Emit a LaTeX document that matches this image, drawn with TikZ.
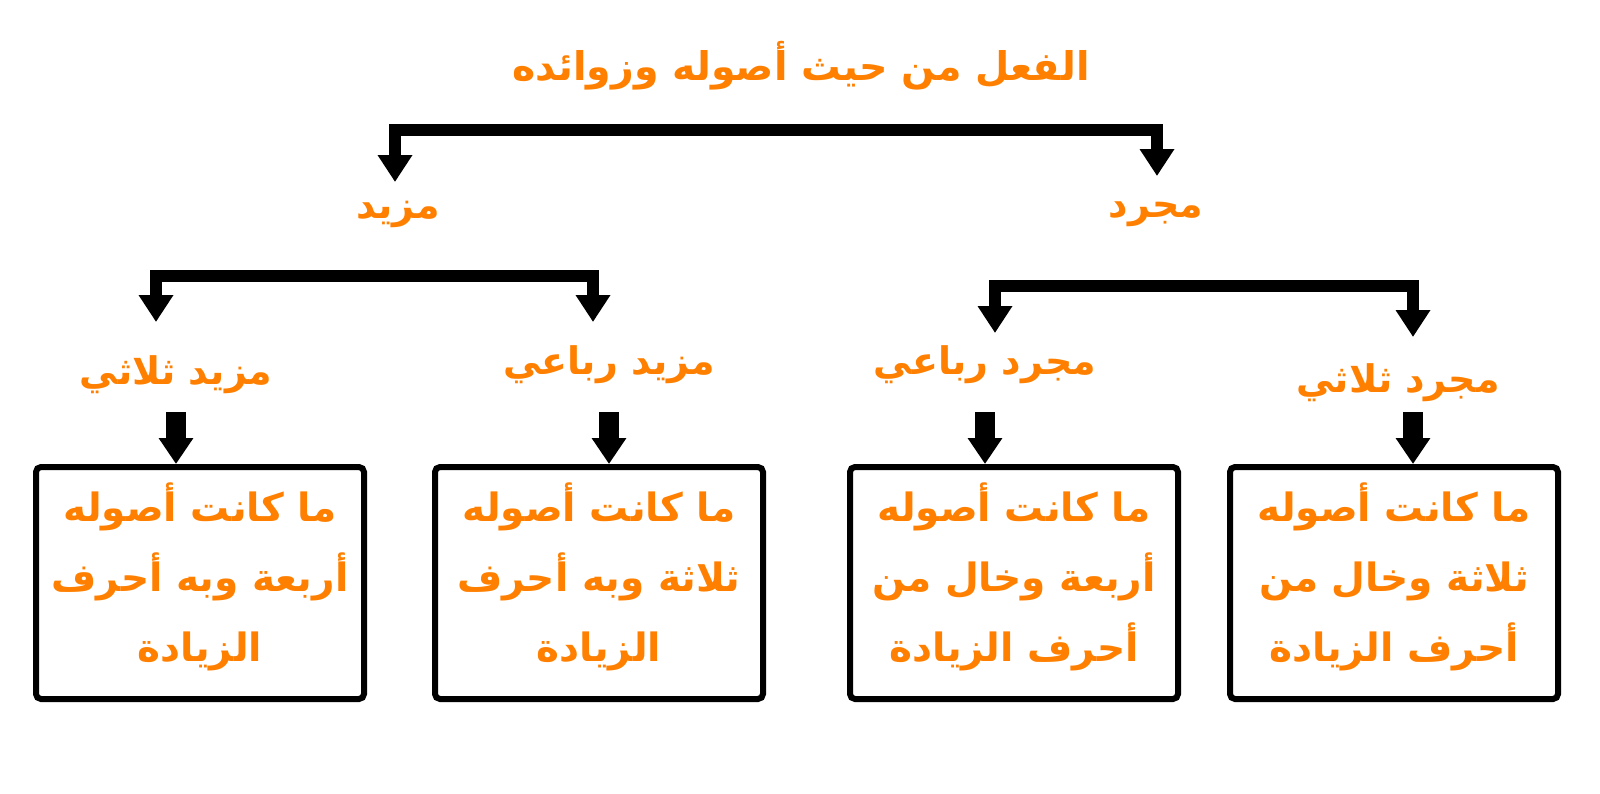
\documentclass[tikz,border=0pt]{standalone}
\usepackage{fontspec}
\TeXXeTstate=1
\newfontfamily\arabicfont[Script=Arabic]{DejaVu Sans}
\usetikzlibrary{arrows.meta}
\definecolor{orng}{RGB}{255,128,0}
\tikzset{
  lbl/.style={text=orng,font=\arabicfont\bfseries\fontsize{38}{44}\selectfont,inner sep=0pt},
  ttl/.style={text=orng,font=\arabicfont\bfseries\fontsize{39.5}{44}\selectfont,inner sep=0pt},
  boxtxt/.style={text=orng,font=\arabicfont\bfseries\fontsize{39}{70}\selectfont,align=center,inner sep=0pt},
  bx/.style={draw=black,line width=6pt,rounded corners=5pt,minimum width=328pt,minimum height=232pt,inner sep=0pt},
  brk/.style={draw=black,line width=12pt,line join=miter,line cap=butt,
     {Triangle[width=33pt,length=27pt]}-{Triangle[width=33pt,length=27pt]}},
  sarr/.style={draw=black,line width=20pt,-{Triangle[width=33pt,length=26pt]}}
}
\newcommand{\AR}[1]{\beginR #1\endR}
\begin{document}
\begin{tikzpicture}[x=1pt,y=-1pt]
\useasboundingbox (0,0) rectangle (1600,793);
% title
\node[ttl] (title) at (801,66) {\AR{الفعل من حيث أصوله وزوائده}};
% level 1
\node[lbl] (mazid) at (398,214) {\AR{مزيد}};
\node[lbl] (mujarrad) at (1156,214) {\AR{مجرد}};
\coordinate (t1L) at (395,182);
\coordinate (t1R) at (1157,176);
\coordinate (b1) at (776,130);
\draw[brk] (t1L) |- (b1) -| (t1R);
% level 2
\node[lbl] (mth) at (176,375) {\AR{مزيد ثلاثي}};
\node[lbl] (mrb) at (609,365) {\AR{مزيد رباعي}};
\node[lbl] (jrb) at (985,365) {\AR{مجرد رباعي}};
\node[lbl] (jth) at (1398,383) {\AR{مجرد ثلاثي}};
\coordinate (t2a) at (156,322);
\coordinate (t2b) at (593,322);
\coordinate (b2) at (375,276);
\draw[brk] (t2a) |- (b2) -| (t2b);
\coordinate (t3a) at (995,333);
\coordinate (t3b) at (1413,337);
\coordinate (b3) at (1200,286);
\draw[brk] (t3a) |- (b3) -| (t3b);
% boxes
\node[bx] (box1) at (200,583) {};
\node[bx] (box2) at (599,583) {};
\node[bx] (box3) at (1014,583) {};
\node[bx] (box4) at (1394,583) {};
\node[boxtxt] (tx1) at ([yshift=6pt]box1.center) {\AR{ما كانت أصوله}\\\AR{أربعة وبه أحرف}\\\AR{الزيادة}};
\node[boxtxt] (tx2) at ([yshift=6pt]box2.center) {\AR{ما كانت أصوله}\\\AR{ثلاثة وبه أحرف}\\\AR{الزيادة}};
\node[boxtxt] (tx3) at ([yshift=6pt]box3.center) {\AR{ما كانت أصوله}\\\AR{أربعة وخال من}\\\AR{أحرف الزيادة}};
\node[boxtxt] (tx4) at ([yshift=6pt]box4.center) {\AR{ما كانت أصوله}\\\AR{ثلاثة وخال من}\\\AR{أحرف الزيادة}};
% small arrows
\coordinate (s1) at (176,412);
\coordinate (s2) at (609,412);
\coordinate (s3) at (985,412);
\coordinate (s4) at (1413,412);
\draw[sarr] (s1) -- (box1.north -| s1);
\draw[sarr] (s2) -- (box2.north -| s2);
\draw[sarr] (s3) -- (box3.north -| s3);
\draw[sarr] (s4) -- (box4.north -| s4);
\end{tikzpicture}
\end{document}
